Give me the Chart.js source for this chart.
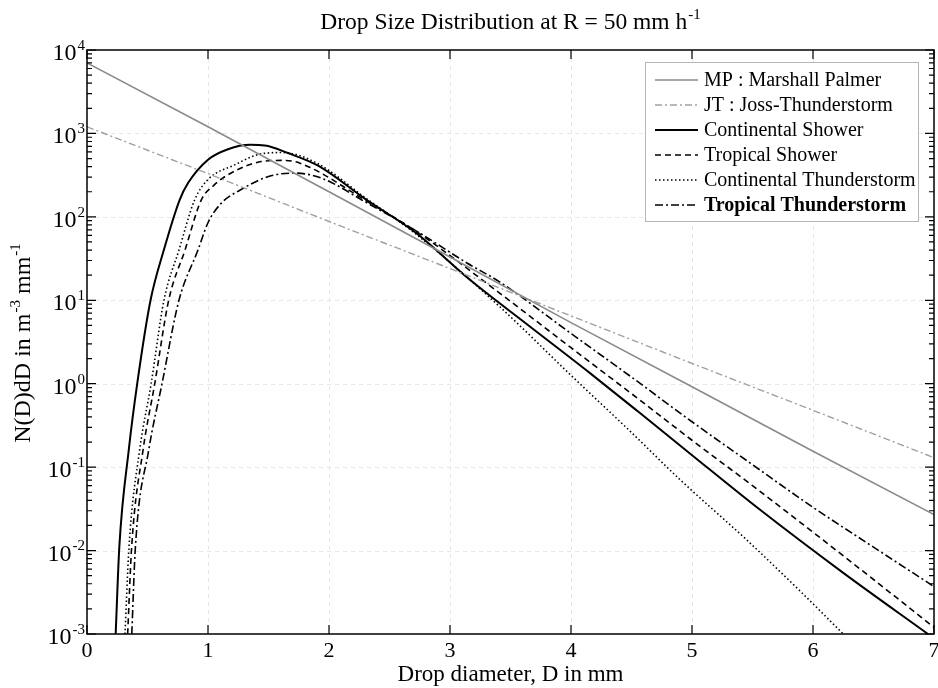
<!DOCTYPE html>
<html><head><meta charset="utf-8">
<script src="https://cdn.jsdelivr.net/npm/chart.js@4.4.0/dist/chart.umd.min.js"></script>
<style>html,body{margin:0;padding:0;background:#fff}#wrap{width:938px;height:688px}</style>
</head><body><div id="wrap"><canvas id="c" width="938" height="688"></canvas></div>
<script>
// ---- data ----
const chartTitle = "Drop Size Distribution at R = 50 mm h";
const chartTitleSup = "-1";
const xAxisTitle = "Drop diameter, D in mm";
const xTickValues = [0, 1, 2, 3, 4, 5, 6, 7];
const yTickExponents = [-3, -2, -1, 0, 1, 2, 3, 4];
const seriesNames = ["MP : Marshall Palmer", "JT : Joss-Thunderstorm", "Continental Shower",
  "Tropical Shower", "Continental Thunderstorm", "Tropical Thunderstorm"];

const mpD = [0, 1, 2, 3, 4, 5, 6, 7];
const mpN = [7000, 1200, 200, 33, 5.4, 0.92, 0.155, 0.027];

const jtD = [0, 1, 2, 3, 4, 5, 6, 7];
const jtN = [1200, 330, 88, 24, 6.5, 1.75, 0.48, 0.13];

const csD = [0.237, 0.267, 0.345, 0.415, 0.525, 0.635, 0.766, 0.835, 1.0, 1.165, 1.35, 1.47, 1.66, 1.91, 2.31, 2.72, 3.165, 3.66, 4.157, 4.57, 4.98, 5.56, 6.25, 6.95];
const csN = [0.001, 0.011, 0.16, 1, 10, 40, 160, 254, 484, 646, 730, 718, 582, 410, 160, 64, 17.6, 4.85, 1.34, 0.445, 0.147, 0.031, 0.0054, 0.001];

const tsD = [0.336, 0.369, 0.463, 0.56, 0.675, 0.81, 0.945, 1.05, 1.165, 1.44, 1.62, 1.76, 2.31, 2.72, 3.41, 4.0, 4.5, 5.0, 5.5, 6.0, 6.5, 7.0];
const tsN = [0.001, 0.011, 0.16, 1, 10, 40, 160, 240, 320, 460, 475, 440, 155, 67, 12.2, 2.7, 0.76, 0.21, 0.06, 0.0166, 0.0045, 0.0012];

const ctD = [0.314, 0.347, 0.435, 0.53, 0.636, 0.76, 0.89, 1.0, 1.22, 1.44, 1.62, 1.90, 2.31, 2.72, 3.41, 4.0, 4.5, 4.9, 5.45, 5.9, 6.25];
const ctN = [0.001, 0.011, 0.16, 1, 10, 40, 160, 280, 420, 570, 590, 440, 165, 62, 8.4, 1.26, 0.26, 0.071, 0.0135, 0.0032, 0.001];

const ttD = [0.37, 0.40, 0.51, 0.62, 0.76, 0.917, 1.0, 1.11, 1.27, 1.5, 1.72, 1.94, 2.31, 2.72, 3.14, 3.41, 4.0, 4.5, 5.0, 5.5, 6.0, 6.5, 7.0];
const ttN = [0.001, 0.011, 0.16, 1, 10, 40, 85, 146, 211, 305, 335, 290, 148, 68, 28, 16.6, 4.0, 1.2, 0.35, 0.107, 0.033, 0.011, 0.0037];

// ---- helpers ----
const pts = (d, n) => d.map((v, i) => ({x: v, y: n[i]}));
const SERIF = '"Liberation Serif","Times New Roman",serif';

const styles = [
  {color: '#8a8a8a', width: 1.6, dash: [], mono: false},
  {color: '#a0a0a0', width: 1.4, dash: [7, 3, 2, 3], mono: false},
  {color: '#000000', width: 2.0, dash: [], mono: true},
  {color: '#000000', width: 1.6, dash: [6, 4], mono: true},
  {color: '#000000', width: 1.6, dash: [1.5, 2.5], mono: true},
  {color: '#000000', width: 1.6, dash: [8, 3, 2, 3], mono: true}
];
const seriesData = [pts(mpD, mpN), pts(jtD, jtN), pts(csD, csN), pts(tsD, tsN), pts(ctD, ctN), pts(ttD, ttN)];

const datasets = seriesNames.map((name, i) => ({
  label: name,
  data: seriesData[i],
  borderColor: styles[i].color,
  borderWidth: styles[i].width,
  borderDash: styles[i].dash,
  pointRadius: 0,
  fill: false,
  cubicInterpolationMode: styles[i].mono ? 'monotone' : 'default',
  tension: 0
}));

function drawSupText(ctx, base, sup, x, y, size, align) {
  ctx.font = size + 'px ' + SERIF;
  const wb = ctx.measureText(base).width;
  const ss = Math.round(size * 0.62);
  ctx.font = ss + 'px ' + SERIF;
  const ws = ctx.measureText(sup).width;
  const total = wb + ws + 1;
  let x0 = x;
  if (align === 'center') x0 = x - total / 2;
  else if (align === 'right') x0 = x - total;
  ctx.textAlign = 'left';
  ctx.textBaseline = 'alphabetic';
  ctx.font = size + 'px ' + SERIF;
  ctx.fillText(base, x0, y);
  ctx.font = ss + 'px ' + SERIF;
  ctx.fillText(sup, x0 + wb + 1, y - size * 0.42);
}

const decor = {
  id: 'decor',
  beforeDraw(chart) {
    const {ctx, chartArea: a, scales: {x, y}} = chart;
    ctx.save();
    ctx.fillStyle = '#fff';
    ctx.fillRect(0, 0, chart.width, chart.height);
    ctx.strokeStyle = '#e6e6e6';
    ctx.lineWidth = 1;
    ctx.setLineDash([4, 4]);
    xTickValues.forEach(v => {
      const px = Math.round(x.getPixelForValue(v)) + 0.5;
      if (px <= a.left + 1 || px >= a.right - 1) return;
      ctx.beginPath(); ctx.moveTo(px, a.top); ctx.lineTo(px, a.bottom); ctx.stroke();
    });
    yTickExponents.forEach(e => {
      const py = Math.round(y.getPixelForValue(Math.pow(10, e))) + 0.5;
      if (py <= a.top + 1 || py >= a.bottom - 1) return;
      ctx.beginPath(); ctx.moveTo(a.left, py); ctx.lineTo(a.right, py); ctx.stroke();
    });
    ctx.restore();
  },
  afterDatasetsDraw(chart) {
    const {ctx, chartArea: a, scales: {x, y}} = chart;
    ctx.save();
    ctx.setLineDash([]);
    ctx.strokeStyle = '#000';
    ctx.lineWidth = 1.5;
    ctx.strokeRect(a.left, a.top, a.right - a.left, a.bottom - a.top);
    // ticks
    ctx.lineWidth = 1.2;
    const major = 9, minor = 5;
    xTickValues.forEach(v => {
      const px = x.getPixelForValue(v);
      ctx.beginPath();
      ctx.moveTo(px, a.bottom); ctx.lineTo(px, a.bottom - major);
      ctx.moveTo(px, a.top); ctx.lineTo(px, a.top + major);
      ctx.stroke();
    });
    yTickExponents.forEach(e => {
      const py = y.getPixelForValue(Math.pow(10, e));
      ctx.beginPath();
      ctx.moveTo(a.left, py); ctx.lineTo(a.left + major, py);
      ctx.moveTo(a.right, py); ctx.lineTo(a.right - major, py);
      ctx.stroke();
      if (e < 4) {
        for (let k = 2; k <= 9; k++) {
          const pm = y.getPixelForValue(k * Math.pow(10, e));
          ctx.beginPath();
          ctx.moveTo(a.left, pm); ctx.lineTo(a.left + minor, pm);
          ctx.moveTo(a.right, pm); ctx.lineTo(a.right - minor, pm);
          ctx.stroke();
        }
      }
    });
    // tick labels
    ctx.fillStyle = '#000';
    ctx.font = '22px ' + SERIF;
    ctx.textAlign = 'center';
    ctx.textBaseline = 'top';
    xTickValues.forEach(v => {
      ctx.fillText(String(v), x.getPixelForValue(v), a.bottom + 6);
    });
    yTickExponents.forEach(e => {
      const py = y.getPixelForValue(Math.pow(10, e));
      drawSupText(ctx, '10', String(e), a.left - 2, py + 10, 24, 'right');
    });
    // axis titles
    ctx.font = '23px ' + SERIF;
    ctx.textAlign = 'center';
    ctx.textBaseline = 'alphabetic';
    ctx.fillText(xAxisTitle, (a.left + a.right) / 2, 681);
    // y title rotated
    ctx.save();
    ctx.translate(30, (a.top + a.bottom) / 2 + 1);
    ctx.rotate(-Math.PI / 2);
    const parts = [['N(D)dD in m', false], ['-3', true], [' mm', false], ['-1', true]];
    const big = 24, small = 15;
    let tw = 0;
    parts.forEach(([t, s]) => { ctx.font = (s ? small : big) + 'px ' + SERIF; tw += ctx.measureText(t).width + (s ? 1 : 0); });
    let cx = -tw / 2;
    ctx.textAlign = 'left';
    parts.forEach(([t, s]) => {
      ctx.font = (s ? small : big) + 'px ' + SERIF;
      ctx.fillText(t, cx + (s ? 1 : 0), s ? -10 : 0);
      cx += ctx.measureText(t).width + (s ? 1 : 0);
    });
    ctx.restore();
    // chart title
    drawSupText(ctx, chartTitle, chartTitleSup, (a.left + a.right) / 2, 29, 23.5, 'center');
    // legend
    const lx = 645, ly = 62, lw = 273, lh = 159;
    ctx.fillStyle = '#fff';
    ctx.fillRect(lx, ly, lw, lh);
    ctx.strokeStyle = '#b5b5b5';
    ctx.lineWidth = 1;
    ctx.strokeRect(lx + 0.5, ly + 0.5, lw, lh);
    chart.data.datasets.forEach((ds, i) => {
      const ry = 80 + i * 25;
      ctx.strokeStyle = ds.borderColor;
      ctx.lineWidth = ds.borderWidth;
      ctx.setLineDash(ds.borderDash || []);
      ctx.beginPath(); ctx.moveTo(655, ry); ctx.lineTo(698, ry); ctx.stroke();
      ctx.setLineDash([]);
      ctx.fillStyle = '#000';
      ctx.font = (i === 5 ? 'bold ' : '') + '20px ' + SERIF;
      ctx.textAlign = 'left';
      ctx.textBaseline = 'middle';
      ctx.fillText(ds.label, 704, ry + 1);
    });
    ctx.restore();
  }
};

new Chart(document.getElementById('c'), {
  type: 'line',
  data: {datasets},
  options: {
    responsive: false,
    animation: false,
    layout: {padding: {left: 87, right: 4, top: 50, bottom: 54}},
    plugins: {legend: {display: false}, title: {display: false}, tooltip: {enabled: false}},
    scales: {
      x: {type: 'linear', min: 0, max: 7, display: false},
      y: {type: 'logarithmic', min: 0.001, max: 10000, display: false}
    }
  },
  plugins: [decor]
});
</script>
</body></html>
